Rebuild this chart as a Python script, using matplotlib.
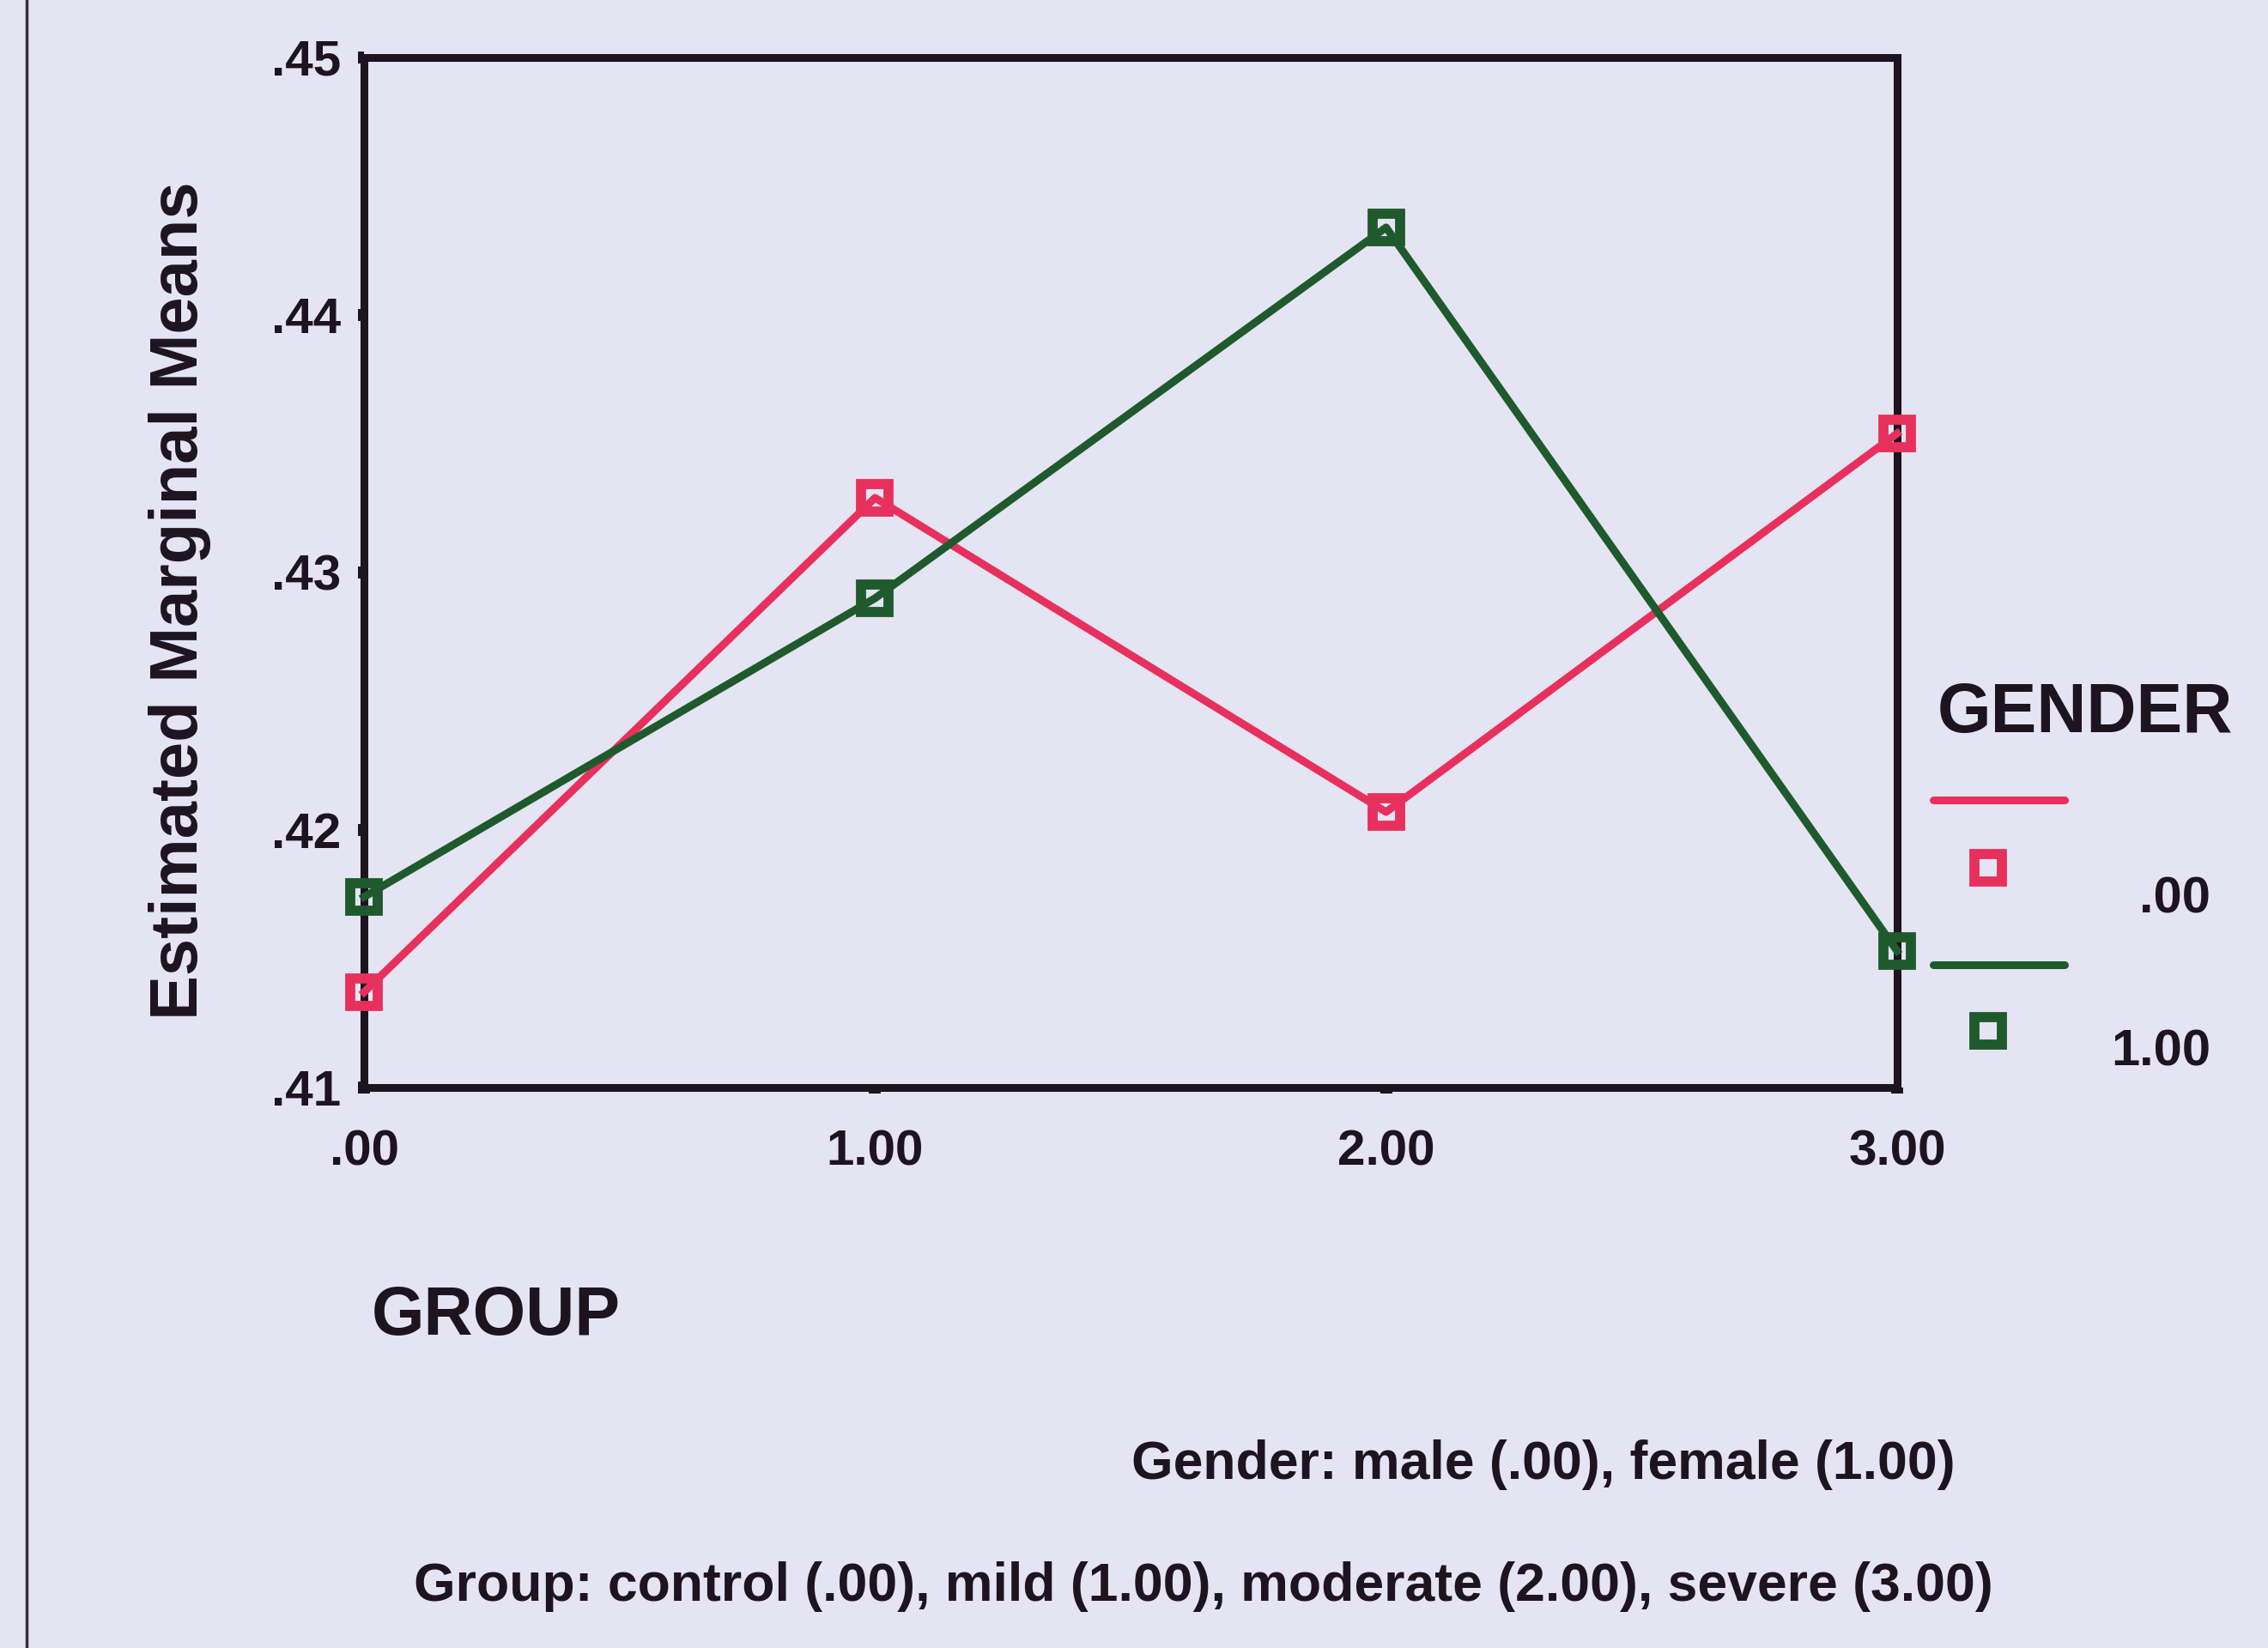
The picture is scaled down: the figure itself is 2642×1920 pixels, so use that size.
import matplotlib
matplotlib.use("Agg")
import matplotlib.pyplot as plt
from matplotlib.lines import Line2D

# Estimated marginal means by group and gender
groups = [0.0, 1.0, 2.0, 3.0]
group_labels = [".00", "1.00", "2.00", "3.00"]
male_means = [0.4137, 0.4329, 0.4207, 0.4354]     # GENDER = .00
female_means = [0.4174, 0.4290, 0.4434, 0.4153]   # GENDER = 1.00
y_ticks = [0.41, 0.42, 0.43, 0.44, 0.45]
y_tick_labels = [".41", ".42", ".43", ".44", ".45"]
legend_labels = [".00", "1.00"]

W, H = 2642, 1920
DPI = 100
BG = "#e4e4f3"
INK = "#1e1420"
RED = "#e8305c"
GREEN = "#1f5a2c"
FONT = ["Liberation Sans", "DejaVu Sans"]

plt.rcParams["font.family"] = FONT

fig = plt.figure(figsize=(W / DPI, H / DPI), dpi=DPI, facecolor=BG)


def fx(px):
    return px / W


def fy(py):
    return 1 - py / H


# plot frame in pixel terms
L, R, T, B = 424, 2210, 67, 1267
ax = fig.add_axes([fx(L), fy(B), fx(R) - fx(L), fy(T) - fy(B)])
ax.set_facecolor(BG)

for vals, col in [(male_means, RED), (female_means, GREEN)]:
    ax.plot(groups, vals, color=col, lw=6.5, marker="s", ms=23,
            mew=8.5, mfc="none", mec=col, clip_on=False, zorder=3)

ax.set_xlim(0, 3)
ax.set_ylim(0.41, 0.45)
ax.set_xticks(groups)
ax.set_xticklabels(group_labels)
ax.set_yticks(y_ticks)
ax.set_yticklabels(y_tick_labels)
for s in ax.spines.values():
    s.set_color(INK)
    s.set_linewidth(6.5)
ax.tick_params(axis="both", colors=INK, length=5, width=10,
               labelsize=42, direction="out")
ax.tick_params(axis="x", pad=30)
ax.tick_params(axis="y", pad=14)
for lab in ax.get_xticklabels() + ax.get_yticklabels():
    lab.set_fontweight("bold")
    lab.set_color(INK)

# axis titles
fig.text(fx(210), fy(700), "Estimated Marginal Means", rotation=90,
         ha="center", va="center", fontsize=56, fontweight="bold", color=INK)
fig.text(fx(433), fy(1535), "GROUP", ha="left", va="center",
         fontsize=57, fontweight="bold", color=INK)

# legend block
fig.text(fx(2257), fy(832), "GENDER", ha="left", va="center",
         fontsize=58, fontweight="bold", color=INK)
for i, (col, lab) in enumerate([(RED, legend_labels[0]),
                                (GREEN, legend_labels[1])]):
    y_line = 932 + i * 192
    y_mark = 1011 + i * 190
    y_text = 1048 + i * 178
    fig.add_artist(Line2D([fx(2252), fx(2405)], [fy(y_line), fy(y_line)],
                          color=col, lw=6.5, solid_capstyle="round"))
    fig.add_artist(Line2D([fx(2316)], [fy(y_mark)], marker="s", ms=23,
                          mew=8.5, mfc="none", mec=col, lw=0))
    fig.text(fx(2575), fy(y_text), lab, ha="right", va="center",
             fontsize=43, fontweight="bold", color=INK)

# footnotes
fig.text(fx(2278), fy(1707), "Gender: male (.00), female (1.00)",
         ha="right", va="center", fontsize=45, fontweight="bold", color=INK)
fig.text(fx(2322), fy(1848),
         "Group: control (.00), mild (1.00), moderate (2.00), severe (3.00)",
         ha="right", va="center", fontsize=45, fontweight="bold", color=INK)

# page border at the left
fig.add_artist(Line2D([fx(31), fx(31)], [0, 1], color="#3a2a3a", lw=2.5))

fig.savefig("out.png", dpi=DPI, facecolor=BG)
